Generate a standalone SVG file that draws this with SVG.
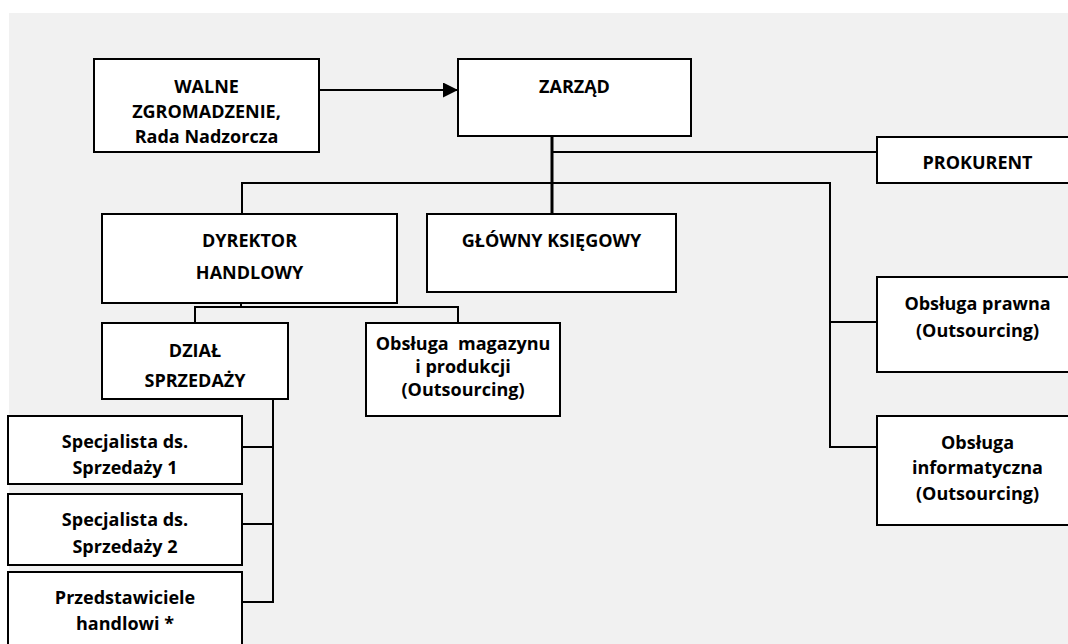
<svg xmlns="http://www.w3.org/2000/svg" width="1068" height="644" viewBox="0 0 1068 644">
<defs>
<marker id="arr" markerWidth="16" markerHeight="16" refX="15" refY="7.5" orient="auto" markerUnits="userSpaceOnUse">
<path d="M0,0 L15,7.5 L0,15 Z" fill="#000"/>
</marker>
<style>
.box{fill:#fff;stroke:#000;stroke-width:2}
.ln{fill:none;stroke:#000;stroke-width:2}
.t{font-family:"Open Sans","Noto Sans","Liberation Sans",sans-serif;font-weight:700;font-size:18px;fill:#000;text-anchor:middle}
</style>
</defs>
<rect width="1068" height="644" fill="#fff"/>
<rect x="9" y="13" width="1059" height="631" fill="#f1f1f1"/>
<g id="connectors">
<line class="ln" x1="319" y1="90" x2="458" y2="90" marker-end="url(#arr)"/>
<line class="ln" x1="552" y1="136" x2="552" y2="214" style="stroke-width:3"/>
<line class="ln" x1="552" y1="152" x2="877" y2="152"/>
<polyline class="ln" points="242,214 242,183 830,183 830,447 877,447"/>
<line class="ln" x1="830" y1="322" x2="877" y2="322"/>
<line class="ln" x1="241" y1="292" x2="241" y2="307"/>
<polyline class="ln" points="195,322 195,307 458,307 458,322"/>
<polyline class="ln" points="288,399 273,399 273,602 242,602"/>
<line class="ln" x1="242" y1="447" x2="273" y2="447"/>
<line class="ln" x1="242" y1="524" x2="273" y2="524"/>
</g>
<g id="walne"><rect class="box" x="94" y="59" width="225" height="93"/>
<text class="t" x="206.5" y="93">WALNE</text><text class="t" x="206.5" y="118">ZGROMADZENIE,</text><text class="t" x="206.5" y="143">Rada Nadzorcza</text></g>
<g id="zarzad"><rect class="box" x="458" y="59" width="233" height="77"/><text class="t" x="574.5" y="93">ZARZĄD</text></g>
<g id="prokurent"><rect class="box" x="877" y="137" width="203" height="46"/><text class="t" x="977.5" y="169">PROKURENT</text></g>
<g id="dyrektor"><rect class="box" x="102" y="214" width="295" height="89"/><text class="t" x="249.5" y="247">DYREKTOR</text><text class="t" x="249.5" y="279">HANDLOWY</text></g>
<g id="glowny"><rect class="box" x="427" y="214" width="249" height="78"/><text class="t" x="551.5" y="247">GŁÓWNY KSIĘGOWY</text></g>
<g id="dzial"><rect class="box" x="102" y="323" width="186" height="76"/><text class="t" x="195" y="357">DZIAŁ</text><text class="t" x="195" y="387">SPRZEDAŻY</text></g>
<g id="magazyn"><rect class="box" x="366" y="323" width="194" height="93"/><text class="t" x="463" y="350" xml:space="preserve">Obsługa  magazynu</text><text class="t" x="463" y="373">i produkcji</text><text class="t" x="463" y="396">(Outsourcing)</text></g>
<g id="spec1"><rect class="box" x="8" y="416" width="234" height="68"/><text class="t" x="125" y="448">Specjalista ds.</text><text class="t" x="125" y="474">Sprzedaży 1</text></g>
<g id="spec2"><rect class="box" x="8" y="494" width="234" height="71"/><text class="t" x="125" y="526">Specjalista ds.</text><text class="t" x="125" y="553">Sprzedaży 2</text></g>
<g id="przed"><rect class="box" x="8" y="572" width="234" height="80"/><text class="t" x="125" y="604">Przedstawiciele</text><text class="t" x="125" y="630">handlowi *</text></g>
<g id="prawna"><rect class="box" x="877" y="277" width="203" height="95"/><text class="t" x="977.5" y="310">Obsługa prawna</text><text class="t" x="977.5" y="337">(Outsourcing)</text></g>
<g id="informatyczna"><rect class="box" x="877" y="416" width="203" height="109"/><text class="t" x="977.5" y="449">Obsługa</text><text class="t" x="977.5" y="474">informatyczna</text><text class="t" x="977.5" y="500">(Outsourcing)</text></g>
</svg>
